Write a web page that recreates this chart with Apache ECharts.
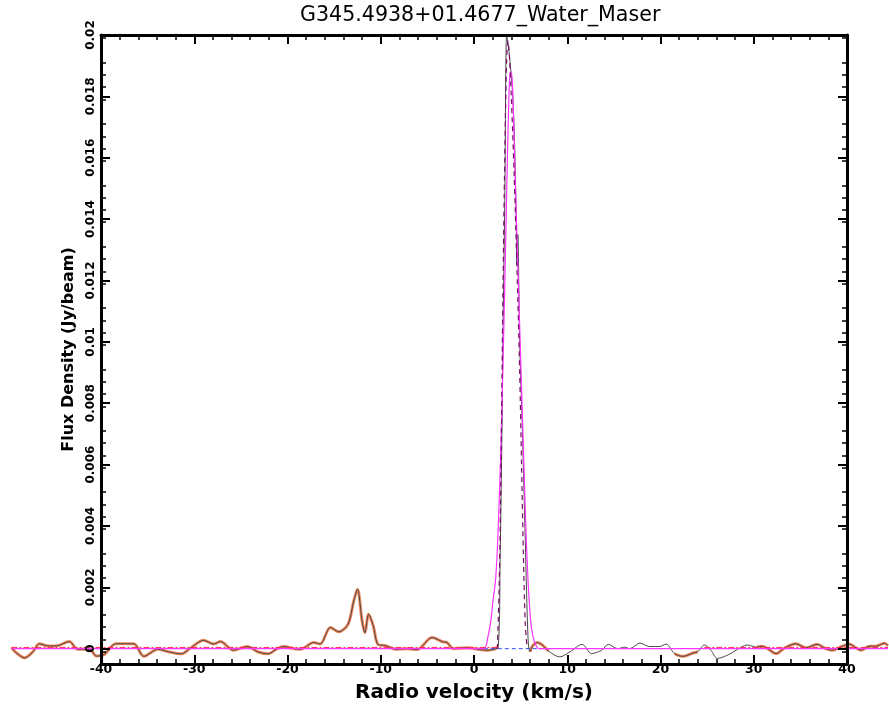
<!DOCTYPE html>
<html>
<head>
<meta charset="utf-8">
<script src="https://cdn.jsdelivr.net/npm/echarts@6/dist/echarts.min.js"></script>
<style>
html,body{margin:0;padding:0;background:#fff;}
#chart{width:889px;height:711px;}
</style>
</head>
<body>
<div id="chart"></div>
<script>
// ---- data ----
const titleText = 'G345.4938+01.4677_Water_Maser';
const xName = 'Radio velocity (km/s)';
const yName = 'Flux Density (Jy/beam)';
const yTicks = [0, 0.002, 0.004, 0.006, 0.008, 0.01, 0.012, 0.014, 0.016, 0.018, 0.02];

// observed spectrum (velocity km/s, flux Jy/beam)
const specVel = [-49.6,-49.1,-48.2,-47.3,-46.6,-45.7,-44.8,-43.4,-42.5,-41.2,-40.5,-39.7,-38.4,-36.5,-35.4,-33.9,-32.8,-31.4,-30.4,-29.0,-27.9,-27.2,-25.8,-24.3,-23.2,-22.1,-21.1,-20.4,-19.3,-18.6,-17.2,-16.5,-15.4,-14.5,-13.5,-12.9,-12.5,-12.0,-11.7,-11.3,-10.8,-10.3,-9.5,-8.4,-7.2,-6.1,-4.5,-3.4,-2.9,-2.2,-0.8,0.6,1.4,2.0,2.6,2.8,3.0,3.1,3.3,3.5,3.7,3.9,4.1,4.3,4.5,4.6,4.7,4.9,5.2,5.5,5.8,6.0,6.3,6.8,7.4,8.0,9.2,10.3,11.6,12.6,13.7,14.4,15.4,16.2,16.7,17.8,18.8,19.9,20.6,21.5,22.4,23.5,24.0,24.7,25.4,26.1,27.4,28.1,29.3,30.3,30.9,31.5,32.4,33.3,34.5,35.6,36.8,37.7,38.4,39.5,40.2,41.5,42.4,43.1,44.0,44.4];
const specFlux = [0.00003,-0.00013,-0.0003,-0.0001,0.00016,0.00009,0.00009,0.00023,-0.00002,-0.00002,-0.00024,-0.0002,0.00016,0.00016,-0.00025,-0.00002,-0.0001,-0.00017,0.00002,0.00027,0.00015,0.00023,-0.00005,0.00007,-0.0001,-0.00017,0,0.00007,0,-0.00002,0.0002,0.00015,0.00069,0.00055,0.0008,0.00155,0.00194,0.0009,0.00052,0.00112,0.00074,0.00014,0.0001,-0.00002,0,-0.00003,0.00036,0.00023,0.0002,0,0.00003,-0.00003,-0.00005,-0.00003,0.00005,0.0029,0.0071,0.01,0.0146,0.02,0.0196,0.019,0.0183,0.017,0.0145,0.0125,0.0135,0.01,0.007,0.0035,0.0003,-0.0001,0.0001,0.0002,0.0001,-0.00008,-0.00027,-0.0001,0.00014,-0.00016,-0.00005,0.00014,0,0.00005,0,0.00018,0.00007,0.00007,0.00015,-0.00016,-0.00025,-0.00014,-0.0001,0.00012,-0.00005,-0.00032,-0.00018,-0.00005,0.00012,0.00005,0.00008,0,-0.00016,0.00002,0.00016,0.00003,0.00014,0,-0.00005,0.00008,0.00015,-0.00005,0.00008,0.00008,0.00018,0.0001];

// velocity ranges where the orange baseline-region trace is drawn
const orangeRanges = [[-50, 2.6], [6.0, 8.0], [21.0, 24.5], [29.5, 44.5]];

// Gaussian fit (magenta)
const fitVel  = [-49.6,0.8,1.2,1.5,1.8,2.05,2.3,2.5,2.7,2.9,3.1,3.3,3.5,3.7,3.85,4.0,4.15,4.4,4.6,4.8,5.0,5.2,5.4,5.6,5.8,6.0,6.2,6.5,6.8,7.0,44.4];
const fitFlux = [0,0,0.00002,0.0004,0.0009,0.0016,0.0022,0.0032,0.0048,0.0068,0.0092,0.0118,0.0148,0.0175,0.0187,0.0188,0.0182,0.0155,0.0135,0.0115,0.0095,0.0075,0.0055,0.0036,0.0022,0.0012,0.0006,0.0002,0.00003,0,0];

// dashed model profile across the peak
const modelVel  = [2.5,2.7,2.9,3.1,3.3,3.5,3.65,3.8,4.0,4.3,4.6,4.9,5.1,5.3,5.5,5.7];
const modelFlux = [0,0.002,0.006,0.0115,0.016,0.0192,0.0198,0.0193,0.018,0.0155,0.0125,0.009,0.006,0.003,0.0008,0];

// baseline level (red dash-dot) segments
const baseLevel = 0.00004;
const baseRanges = [[-49.6, 2.6], [24.7, 44.4]];
// blue dashed zero segment under peak
const blueRange = [0.3, 8.0];

// ---- layout: framed axes box, and a full-width data grid with the same scale ----
const W = 889, BOX_L = 101, BOX_R = 42, BOX_T = 35, BOX_B = 47;
const X_MIN = -40, X_MAX = 40, Y_MIN = -0.0005, Y_MAX = 0.02;
const pxPerUnit = (W - BOX_L - BOX_R) / (X_MAX - X_MIN);
const DATA_X_MIN = X_MIN - BOX_L / pxPerUnit;
const DATA_X_MAX = X_MAX + BOX_R / pxPerUnit;

// ---- build series data ----
const specData = specVel.map((v, i) => [v, specFlux[i]]);
const inRanges = v => orangeRanges.some(r => v >= r[0] && v <= r[1]);
const orangeData = specVel.map((v, i) => [v, inRanges(v) ? specFlux[i] : null]);
const fitData = fitVel.map((v, i) => [v, fitFlux[i]]);
const modelData = modelVel.map((v, i) => [v, modelFlux[i]]);
const baseData = [];
baseRanges.forEach((r, k) => {
  if (k > 0) baseData.push([(baseRanges[k-1][1] + r[0]) / 2, null]);
  baseData.push([r[0], baseLevel], [r[1], baseLevel]);
});
const blueData = [[blueRange[0], 0], [blueRange[1], 0]];

const tickStyle = { show: true, inside: true, length: 9, lineStyle: { color: '#000', width: 2 } };
const axisCommon = {
  type: 'value',
  axisLine: { show: true, onZero: false, lineStyle: { color: '#000', width: 3 } },
  axisTick: tickStyle,
  minorTick: { show: true, splitNumber: 5, length: 5, lineStyle: { color: '#000', width: 1.5 } },
  splitLine: { show: false },
  minorSplitLine: { show: false },
  z: 10
};
const hiddenAxis = {
  type: 'value', show: false, axisLine: { show: false }, axisTick: { show: false },
  axisLabel: { show: false }, splitLine: { show: false }
};
const fontBold = { fontFamily: 'DejaVu Sans', fontWeight: 'bold', color: '#000' };

const chart = echarts.init(document.getElementById('chart'), null, { renderer: 'canvas' });
chart.setOption({
  backgroundColor: '#fff',
  animation: false,
  title: {
    text: titleText, left: 295, top: 0,
    textStyle: { fontFamily: 'DejaVu Sans', fontSize: 20.6, fontWeight: 'normal', color: '#000' }
  },
  grid: [
    { left: BOX_L, right: BOX_R, top: BOX_T, bottom: BOX_B },
    { left: 0, right: 0, top: BOX_T, bottom: BOX_B }
  ],
  xAxis: [
    Object.assign({}, axisCommon, {
      gridIndex: 0, position: 'bottom', min: X_MIN, max: X_MAX, interval: 10,
      name: xName, nameLocation: 'middle', nameGap: 19,
      nameTextStyle: Object.assign({ fontSize: 20 }, fontBold),
      axisLabel: Object.assign({ show: true, margin: -1, fontSize: 12.5 }, fontBold)
    }),
    Object.assign({}, axisCommon, {
      gridIndex: 0, position: 'top', min: X_MIN, max: X_MAX, interval: 10, axisLabel: { show: false }
    }),
    Object.assign({}, hiddenAxis, { gridIndex: 1, min: DATA_X_MIN, max: DATA_X_MAX })
  ],
  yAxis: [
    Object.assign({}, axisCommon, {
      gridIndex: 0, position: 'left', min: Y_MIN, max: Y_MAX, interval: 0.002,
      name: yName, nameLocation: 'middle', nameGap: 24,
      nameTextStyle: Object.assign({ fontSize: 16 }, fontBold),
      axisLabel: Object.assign({
        show: true, rotate: 90, margin: 4, fontSize: 12,
        customValues: yTicks,
        formatter: v => String(+v.toFixed(4))
      }, fontBold),
      axisTick: Object.assign({}, tickStyle, { customValues: yTicks })
    }),
    Object.assign({}, axisCommon, {
      gridIndex: 0, position: 'right', min: Y_MIN, max: Y_MAX, interval: 0.002, axisLabel: { show: false },
      axisTick: Object.assign({}, tickStyle, { customValues: yTicks })
    }),
    Object.assign({}, hiddenAxis, { gridIndex: 1, min: Y_MIN, max: Y_MAX })
  ],
  series: [
    { type: 'line', name: 'baseline region', data: orangeData, xAxisIndex: 2, yAxisIndex: 2,
      showSymbol: false, smooth: 0.3, lineStyle: { color: '#f2875c', width: 3 }, z: 2 },
    { type: 'line', name: 'spectrum', data: specData, xAxisIndex: 2, yAxisIndex: 2,
      showSymbol: false, smooth: 0.3, lineStyle: { color: '#4a4a4a', width: 1 }, z: 3 },
    { type: 'line', name: 'zero', data: blueData, xAxisIndex: 2, yAxisIndex: 2,
      showSymbol: false, lineStyle: { color: '#3050ff', width: 1, type: [4, 3] }, z: 3 },
    { type: 'line', name: 'fit', data: fitData, xAxisIndex: 2, yAxisIndex: 2,
      showSymbol: false, smooth: 0.3, lineStyle: { color: '#ff33ff', width: 1.2 }, z: 4 },
    { type: 'line', name: 'model', data: modelData, xAxisIndex: 2, yAxisIndex: 2,
      showSymbol: false, smooth: 0.3, lineStyle: { color: '#7a0a6a', width: 1.2, type: [5, 4] }, z: 5 },
    { type: 'line', name: 'base level', data: baseData, xAxisIndex: 2, yAxisIndex: 2,
      showSymbol: false, lineStyle: { color: '#ff2a55', width: 1, type: [6, 2, 2, 2] }, z: 5 }
  ]
});
</script>
</body>
</html>
